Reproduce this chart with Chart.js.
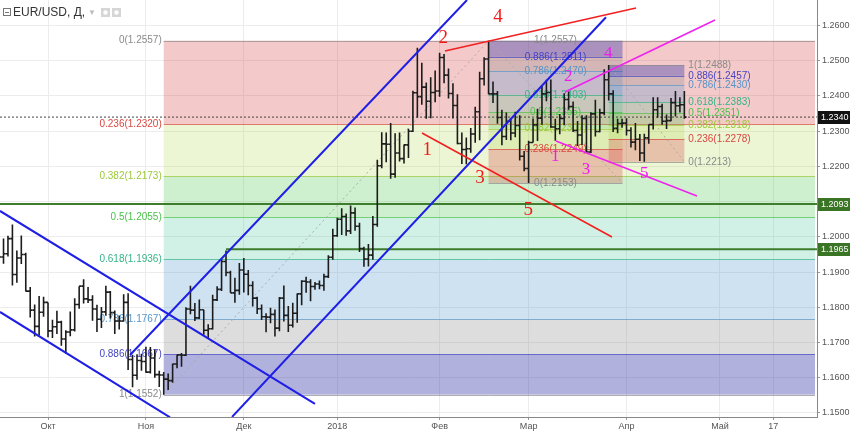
<!doctype html>
<html>
<head>
<meta charset="utf-8">
<title>EUR/USD, Д</title>
<script src="https://cdn.jsdelivr.net/npm/chart.js@4.4.9/dist/chart.umd.min.js"></script>
<style>
  body { margin: 0; background: #fff; }
</style>
<script>
// x = trading day index, 0 = 2 Oct 2017 (weekends skipped like the source chart)
const monthTicks = [0, 22, 44, 65, 88, 108, 130, 151, 163];
const monthLabels = ['Окт', 'Ноя', 'Дек', '2018', 'Фев', 'Мар', 'Апр', 'Май', '17'];
const priceTicks = [1.15, 1.16, 1.17, 1.18, 1.19, 1.20, 1.21, 1.22, 1.23, 1.24, 1.25, 1.26];
const firstDay = -11; // 15 Sep 2017

// daily bars, Sep 15 2017 .. Apr 19 2018
const open = [
  1.1918, 1.1943, 1.1952, 1.1995, 1.1893, 1.1940, 1.1950, 1.1846, 1.1792, 1.1746, 1.1786,
  1.1814, 1.1733, 1.1745, 1.1758, 1.1710, 1.1730, 1.1736, 1.1808, 1.1860, 1.1824, 1.1821, 1.1795, 1.1766, 1.1787, 1.1843, 1.1785, 1.1761, 1.1761, 1.1814, 1.1652, 1.1607, 1.1649,
  1.1646, 1.1616, 1.1656, 1.1609, 1.1608, 1.1596, 1.1592, 1.1639, 1.1665, 1.1664, 1.1795, 1.1792, 1.1770, 1.1793, 1.1735, 1.1739, 1.1821, 1.1851, 1.1930, 1.1899, 1.1841, 1.1848,
  1.1906, 1.1894, 1.1862, 1.1826, 1.1796, 1.1773, 1.1772, 1.1780, 1.1741, 1.1826, 1.1777, 1.1749, 1.1783, 1.1838, 1.1874, 1.1872, 1.1859, 1.1866, 1.1862, 1.1887, 1.1942,
  1.2003, 1.2050, 1.2058, 1.2017, 1.2068, 1.2030, 1.1967, 1.1937, 1.1948, 1.2035, 1.2202, 1.2264, 1.2263, 1.2178, 1.2238, 1.2222, 1.2261, 1.2300, 1.2409, 1.2398, 1.2425, 1.2385, 1.2410,
  1.2414, 1.2509, 1.2459, 1.2407, 1.2373, 1.2265, 1.2248, 1.2250, 1.2292, 1.2355, 1.2449, 1.2505, 1.2406, 1.2406, 1.2339, 1.2285, 1.2328, 1.2295, 1.2316, 1.2229,
  1.2194, 1.2268, 1.2318, 1.2337, 1.2406, 1.2410, 1.2312, 1.2307, 1.2336, 1.2390, 1.2370, 1.2302, 1.2289, 1.2336, 1.2241, 1.2349, 1.2299, 1.2352, 1.2446, 1.2406, 1.2308, 1.2322,
  1.2323, 1.2302, 1.2269, 1.2277, 1.2238, 1.2281, 1.2319, 1.2361, 1.2370, 1.2328, 1.2330, 1.2381, 1.2372, 1.2375
];
const high = [
  1.1990, 1.1995, 1.2003, 1.2035, 1.1961, 1.2004, 1.1955, 1.1858, 1.1808, 1.1832, 1.1830,
  1.1814, 1.1765, 1.1790, 1.1762, 1.1735, 1.1788, 1.1826, 1.1860, 1.1880, 1.1858, 1.1834, 1.1807, 1.1801, 1.1861, 1.1846, 1.1791, 1.1777, 1.1837, 1.1840, 1.1665, 1.1667, 1.1668,
  1.1688, 1.1687, 1.1680, 1.1620, 1.1616, 1.1612, 1.1640, 1.1665, 1.1670, 1.1800, 1.1861, 1.1812, 1.1822, 1.1793, 1.1752, 1.1836, 1.1860, 1.1937, 1.1961, 1.1904, 1.1884, 1.1926,
  1.1940, 1.1906, 1.1874, 1.1830, 1.1808, 1.1783, 1.1799, 1.1794, 1.1829, 1.1862, 1.1804, 1.1813, 1.1839, 1.1877, 1.1887, 1.1880, 1.1872, 1.1876, 1.1895, 1.1948, 1.2023,
  1.2054, 1.2081, 1.2066, 1.2089, 1.2083, 1.2040, 1.1972, 1.1980, 1.2059, 1.2219, 1.2297, 1.2296, 1.2323, 1.2294, 1.2296, 1.2262, 1.2307, 1.2415, 1.2537, 1.2494, 1.2438, 1.2453, 1.2472,
  1.2523, 1.2519, 1.2478, 1.2436, 1.2405, 1.2296, 1.2282, 1.2309, 1.2369, 1.2469, 1.2510, 1.2557, 1.2441, 1.2414, 1.2361, 1.2353, 1.2336, 1.2355, 1.2345, 1.2244,
  1.2273, 1.2336, 1.2364, 1.2429, 1.2446, 1.2447, 1.2335, 1.2349, 1.2408, 1.2413, 1.2384, 1.2329, 1.2345, 1.2345, 1.2354, 1.2389, 1.2364, 1.2476, 1.2488, 1.2416, 1.2335, 1.2335,
  1.2337, 1.2311, 1.2323, 1.2292, 1.2293, 1.2319, 1.2396, 1.2396, 1.2378, 1.2347, 1.2394, 1.2414, 1.2396, 1.2414
];
const low = [
  1.1838, 1.1924, 1.1944, 1.1862, 1.1870, 1.1923, 1.1845, 1.1771, 1.1717, 1.1720, 1.1773,
  1.1715, 1.1713, 1.1724, 1.1691, 1.1668, 1.1718, 1.1731, 1.1796, 1.1811, 1.1812, 1.1762, 1.1730, 1.1741, 1.1776, 1.1768, 1.1724, 1.1737, 1.1760, 1.1622, 1.1573, 1.1594, 1.1620,
  1.1614, 1.1612, 1.1600, 1.1574, 1.1552, 1.1565, 1.1586, 1.1627, 1.1631, 1.1662, 1.1780, 1.1761, 1.1767, 1.1722, 1.1710, 1.1737, 1.1818, 1.1846, 1.1888, 1.1841, 1.1813, 1.1836,
  1.1842, 1.1834, 1.1802, 1.1781, 1.1764, 1.1729, 1.1755, 1.1717, 1.1732, 1.1760, 1.1730, 1.1743, 1.1756, 1.1806, 1.1841, 1.1817, 1.1850, 1.1851, 1.1847, 1.1883, 1.1935,
  1.2000, 1.2005, 1.2003, 1.2008, 1.2017, 1.1957, 1.1915, 1.1916, 1.1935, 1.2029, 1.2195, 1.2212, 1.2165, 1.2168, 1.2214, 1.2208, 1.2224, 1.2298, 1.2339, 1.2375, 1.2335, 1.2337, 1.2382,
  1.2398, 1.2436, 1.2393, 1.2336, 1.2263, 1.2207, 1.2206, 1.2239, 1.2267, 1.2274, 1.2430, 1.2405, 1.2380, 1.2321, 1.2260, 1.2275, 1.2274, 1.2283, 1.2217, 1.2186,
  1.2153, 1.2268, 1.2272, 1.2318, 1.2385, 1.2310, 1.2273, 1.2291, 1.2317, 1.2361, 1.2298, 1.2258, 1.2261, 1.2240, 1.2238, 1.2285, 1.2297, 1.2345, 1.2387, 1.2298, 1.2294, 1.2310,
  1.2288, 1.2254, 1.2246, 1.2215, 1.2213, 1.2264, 1.2305, 1.2338, 1.2318, 1.2306, 1.2328, 1.2342, 1.2353, 1.2335
];
const close = [
  1.1943, 1.1952, 1.1995, 1.1893, 1.1940, 1.1950, 1.1846, 1.1792, 1.1746, 1.1786, 1.1814,
  1.1733, 1.1745, 1.1758, 1.1710, 1.1730, 1.1736, 1.1808, 1.1860, 1.1824, 1.1821, 1.1795, 1.1766, 1.1787, 1.1843, 1.1785, 1.1761, 1.1761, 1.1814, 1.1652, 1.1607, 1.1649, 1.1646,
  1.1616, 1.1656, 1.1609, 1.1608, 1.1596, 1.1592, 1.1639, 1.1665, 1.1664, 1.1795, 1.1792, 1.1770, 1.1793, 1.1735, 1.1739, 1.1821, 1.1851, 1.1930, 1.1899, 1.1841, 1.1848, 1.1906,
  1.1894, 1.1862, 1.1826, 1.1796, 1.1773, 1.1772, 1.1780, 1.1741, 1.1826, 1.1777, 1.1749, 1.1783, 1.1838, 1.1874, 1.1872, 1.1859, 1.1866, 1.1862, 1.1887, 1.1942, 1.2003,
  1.2050, 1.2058, 1.2017, 1.2068, 1.2030, 1.1967, 1.1937, 1.1948, 1.2035, 1.2202, 1.2264, 1.2263, 1.2178, 1.2238, 1.2222, 1.2261, 1.2300, 1.2409, 1.2398, 1.2425, 1.2385, 1.2410, 1.2414,
  1.2509, 1.2459, 1.2407, 1.2373, 1.2265, 1.2248, 1.2250, 1.2292, 1.2355, 1.2449, 1.2505, 1.2406, 1.2406, 1.2339, 1.2285, 1.2328, 1.2295, 1.2316, 1.2229, 1.2194,
  1.2268, 1.2318, 1.2337, 1.2406, 1.2410, 1.2312, 1.2307, 1.2336, 1.2390, 1.2370, 1.2302, 1.2289, 1.2336, 1.2241, 1.2349, 1.2299, 1.2352, 1.2446, 1.2406, 1.2308, 1.2322, 1.2323,
  1.2302, 1.2269, 1.2277, 1.2238, 1.2281, 1.2319, 1.2361, 1.2370, 1.2328, 1.2330, 1.2381, 1.2372, 1.2375, 1.2340
];

const lastPrice = 1.2340;
const levelLines = [1.2093, 1.1965];
const levelLineStart = [-11, 40];

// fibonacci retracements: [start day, end day], prices for levels 0..1
const fibLevels = ['0', '0.236', '0.382', '0.5', '0.618', '0.786', '0.886', '1'];
const fibAnchors = [[26, 99], [99, 129.1], [126, 143]];
const fibPrices = [
  [1.2557, 1.2320, 1.2173, 1.2055, 1.1936, 1.1767, 1.1667, 1.1552],
  [1.2153, 1.2249, 1.2307, 1.2355, 1.2403, 1.2470, 1.2511, 1.2557],
  [1.2213, 1.2278, 1.2318, 1.2351, 1.2383, 1.2430, 1.2457, 1.2488]
];

// trend lines: [day0, price0, day1, price1]
const blueLines = [
  [-10.79, 1.20735, 60.0, 1.15256],
  [-10.79, 1.17868, 27.42, 1.14876],
  [18.43, 1.16647, 94.16, 1.26724],
  [41.35, 1.14887, 125.39, 1.26233]
];
const redLines = [
  [89.21, 1.25276, 132.13, 1.26497],
  [84.04, 1.22949, 126.74, 1.19997]
];
const magentaLines = [
  [116.18, 1.24112, 149.89, 1.26156],
  [114.16, 1.22722, 145.84, 1.21160]
];

// wave counts: [text, day, price]
const redWaves = [['4', 101.1, 1.2625], ['2', 88.8, 1.25645], ['1', 85.2, 1.22466], ['3', 97.1, 1.21671], ['5', 107.9, 1.20763]];
const magentaWaves = [['4', 125.9, 1.25211], ['2', 116.9, 1.24547], ['1', 114.0, 1.22276], ['3', 120.9, 1.21918], ['5', 134.0, 1.21805]];

const FONT = "'Liberation Sans', Arial, sans-serif";
const zoneColors = ['rgba(214,60,60,0.28)', 'rgba(170,210,60,0.22)', 'rgba(80,200,80,0.28)', 'rgba(50,190,140,0.22)',
                    'rgba(80,150,210,0.28)', 'rgba(128,128,128,0.27)', 'rgba(60,60,170,0.4)'];
const levelColors = ['#8a8a8a', '#d9473f', '#9cc83a', '#4cc24c', '#35b486', '#5595c8', '#4545c4', '#8a8a8a'];
const fibLabelAlign = ['right', 'center', 'left'];

function segs(lines) {
  let pts = [];
  lines.forEach(l => { pts.push({x: l[0], y: l[1]}, {x: l[2], y: l[3]}, {x: l[2], y: null}); });
  return pts;
}

function go() {
  Chart.defaults.elements.point.radius = 0;
  Chart.defaults.elements.line.tension = 0;
  Chart.defaults.font.family = FONT;

  let bars = [], opens = [], closes = [];
  high.forEach((h, i) => {
    let d = firstDay + i;
    bars.push({x: d, y: low[i]}, {x: d, y: h}, {x: d, y: null});
    opens.push({x: d - 0.5, y: open[i]}, {x: d, y: open[i]}, {x: d, y: null});
    closes.push({x: d, y: close[i]}, {x: d + 0.5, y: close[i]}, {x: d, y: null});
  });

  const fibPlugin = {
    id: 'fibs',
    beforeDatasetsDraw(chart) {
      const {ctx, chartArea: a, scales: {x, y}} = chart;
      ctx.save();
      ctx.beginPath();
      ctx.rect(a.left, a.top, a.right - a.left, a.bottom - a.top);
      ctx.clip();
      fibAnchors.forEach((an, f) => {
        const pr = fibPrices[f];
        const x0 = x.getPixelForValue(an[0]);
        const x1 = f === 0 ? a.right - 2 : x.getPixelForValue(an[1]);
        for (let i = 0; i < pr.length - 1; i++) {
          const ya = y.getPixelForValue(pr[i]), yb = y.getPixelForValue(pr[i + 1]);
          ctx.fillStyle = zoneColors[i];
          ctx.fillRect(x0, Math.min(ya, yb), x1 - x0, Math.abs(yb - ya));
        }
        ctx.lineWidth = 1;
        pr.forEach((p, i) => {
          const yy = Math.round(y.getPixelForValue(p)) + 0.5;
          ctx.strokeStyle = levelColors[i];
          ctx.globalAlpha = 0.7;
          ctx.beginPath(); ctx.moveTo(x0, yy); ctx.lineTo(x1, yy); ctx.stroke();
        });
        ctx.globalAlpha = 1;
        // dotted trend of the retracement
        ctx.strokeStyle = '#aaa';
        ctx.setLineDash([2, 3]);
        ctx.beginPath();
        ctx.moveTo(x0, y.getPixelForValue(pr[pr.length - 1]));
        ctx.lineTo(x.getPixelForValue(an[1]), y.getPixelForValue(pr[0]));
        ctx.stroke();
        ctx.setLineDash([]);
        // labels
        ctx.font = '10px ' + FONT;
        ctx.textBaseline = 'middle';
        ctx.textAlign = fibLabelAlign[f];
        let lx = f === 0 ? x0 - 2 : f === 1 ? (x0 + x1) / 2 : x1 + 4;
        pr.forEach((p, i) => {
          ctx.fillStyle = levelColors[i];
          ctx.fillText(fibLevels[i] + '(' + p.toFixed(4) + ')', lx, y.getPixelForValue(p));
        });
      });
      ctx.restore();
    }
  };

  const overlayPlugin = {
    id: 'overlay',
    afterDatasetsDraw(chart) {
      const {ctx, scales: {x, y}} = chart;
      ctx.save();
      ctx.textAlign = 'center';
      ctx.textBaseline = 'middle';
      ctx.font = '19px "Liberation Serif", serif';
      ctx.fillStyle = '#f21b1b';
      redWaves.forEach(w => ctx.fillText(w[0], x.getPixelForValue(w[1]), y.getPixelForValue(w[2])));
      ctx.font = '17px "Liberation Serif", serif';
      ctx.fillStyle = '#ee1cee';
      magentaWaves.forEach(w => ctx.fillText(w[0], x.getPixelForValue(w[1]), y.getPixelForValue(w[2])));
      ctx.restore();
    },
    afterDraw(chart) {
      const {ctx, chartArea: a, scales: {y}} = chart;
      ctx.save();
      // price boxes on the axis
      const boxes = [[lastPrice, '#111'], [levelLines[0], '#3a7526'], [levelLines[1], '#3a7526']];
      ctx.font = '9px ' + FONT;
      ctx.textAlign = 'left';
      ctx.textBaseline = 'middle';
      boxes.forEach(b => {
        const yy = Math.round(y.getPixelForValue(b[0]));
        ctx.fillStyle = b[1];
        ctx.fillRect(a.right + 1, yy - 6, 33, 13);
        ctx.fillStyle = '#fff';
        ctx.fillText(b[0].toFixed(4), a.right + 4, yy + 0.5);
      });
      // header
      ctx.strokeStyle = '#777';
      ctx.lineWidth = 1;
      ctx.strokeRect(3.5, 8.5, 7, 7);
      ctx.beginPath(); ctx.moveTo(5, 12.5); ctx.lineTo(9, 12.5); ctx.stroke();
      ctx.font = '12px ' + FONT;
      ctx.fillStyle = '#333';
      ctx.textAlign = 'left';
      ctx.fillText('EUR/USD, Д,', 13, 12.5);
      ctx.fillStyle = '#bbb';
      ctx.font = '8px ' + FONT;
      ctx.fillText('▼', 88, 12.5);
      ctx.fillStyle = '#d6d6d6';
      ctx.fillRect(101, 8, 9, 9);
      ctx.fillRect(112, 8, 9, 9);
      ctx.fillStyle = '#fff';
      ctx.beginPath(); ctx.arc(105.5, 12.5, 2.2, 0, Math.PI * 2); ctx.fill();
      ctx.beginPath(); ctx.arc(116.5, 12.5, 2.2, 0, Math.PI * 2); ctx.fill();
      ctx.restore();
    }
  };

  const line = (data, color, width, dash) => ({
    data, borderColor: color, borderWidth: width, borderDash: dash || [], spanGaps: false, pointRadius: 0
  });

  new Chart(document.getElementById('chart'), {
    type: 'line',
    data: {
      datasets: [
        line(segs(blueLines), '#1f1fe6', 2),
        line(segs(redLines), '#f22020', 1.6),
        line(segs(magentaLines), '#ef22ef', 1.6),
        line(bars, '#1c1c1c', 1.6),
        line(opens, '#1c1c1c', 1.6),
        line(closes, '#1c1c1c', 1.6),
        line(segs(levelLines.map((p, i) => [levelLineStart[i], p, 175, p])), '#3f7d2e', 2),
        line([{x: -10.79, y: lastPrice}, {x: 172.81, y: lastPrice}], '#444', 1, [2, 2])
      ]
    },
    options: {
      responsive: false,
      animation: false,
      events: [],
      layout: { padding: 0 },
      plugins: { legend: { display: false }, tooltip: { enabled: false } },
      scales: {
        x: {
          type: 'linear', min: -10.79, max: 172.81,
          afterBuildTicks: s => { s.ticks = monthTicks.map(v => ({value: v})); },
          afterFit: s => { s.height = 14; s.paddingLeft = 0; s.paddingRight = 0; },
          ticks: { callback: (v, i) => monthLabels[i], autoSkip: false, maxRotation: 0, padding: 1,
                   font: { size: 9, family: FONT }, color: '#555' },
          grid: { color: '#ececec', tickLength: 3, tickColor: '#999' },
          border: { color: '#888' }
        },
        y: {
          position: 'right', min: 1.14886, max: 1.26724,
          afterBuildTicks: s => { s.ticks = priceTicks.map(v => ({value: v})); },
          afterFit: s => { s.width = 33; s.paddingTop = 0; s.paddingBottom = 0; },
          ticks: { callback: v => v.toFixed(4), padding: 2, font: { size: 9, family: FONT }, color: '#555' },
          grid: { color: '#ececec', tickLength: 3, tickColor: '#999' },
          border: { color: '#888' }
        }
      }
    },
    plugins: [fibPlugin, overlayPlugin]
  });
}

window.onload = go;
</script>
</head>
<body>
<canvas id="chart" width="850" height="431"></canvas>
</body>
</html>
